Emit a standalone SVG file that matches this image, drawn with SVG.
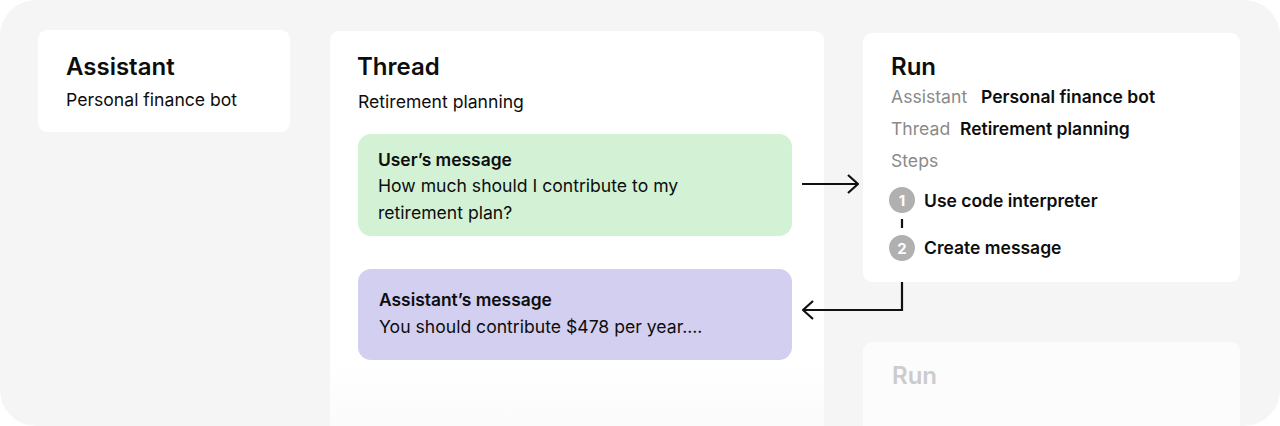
<svg xmlns="http://www.w3.org/2000/svg" width="1280" height="426" viewBox="0 0 1280 426">
<style>
.t{font-family:Inter,"Liberation Sans",sans-serif;fill:#0d0d0d}
.h{font-size:24px;font-weight:600}
.b{font-size:17.6px}
.s{font-size:17.4px;font-weight:600}
.g{fill:#8a8a8a}
.bb{font-size:17.5px;font-weight:600}
.card{fill:#ffffff}
.conn{fill:none;stroke:#111;stroke-width:2.2}
</style>
<defs>
<linearGradient id="fade" x1="0" y1="0" x2="0" y2="1">
<stop offset="0" stop-color="#ffffff"/>
<stop offset="0.8" stop-color="#ffffff"/>
<stop offset="1" stop-color="#fafafa"/>
</linearGradient>
<marker id="ah" viewBox="0 0 12 20" refX="11" refY="10" markerWidth="12" markerHeight="20" markerUnits="userSpaceOnUse" orient="auto">
<path d="M1 1 L11 10 L1 19" fill="none" stroke="#111" stroke-width="2.2"/>
</marker>
</defs>
<rect x="0" y="0" width="1280" height="426" fill="#ffffff"/>
<rect x="0" y="0" width="1280" height="426" rx="36" fill="#f5f5f5"/>
<g id="assistant">
<rect class="card" x="38" y="30" width="252" height="102" rx="9"/>
<text class="t h" x="66" y="75">Assistant</text>
<text class="t b" x="66" y="106">Personal finance bot</text>
</g>
<g id="thread">
<rect x="330" y="31" width="494" height="410" rx="9" fill="url(#fade)"/>
<text class="t h" x="357" y="75">Thread</text>
<text class="t b" x="358" y="108">Retirement planning</text>
</g>
<g id="user-message">
<rect x="358" y="134" width="434" height="102" rx="13" fill="#d3f2d5"/>
<text class="t s" x="378" y="166">User’s message</text>
<text class="t b" x="378" y="192">How much should I contribute to my</text>
<text class="t b" x="378" y="219">retirement plan?</text>
</g>
<g id="assistant-message">
<rect x="358" y="269" width="434" height="91" rx="13" fill="#d3cff0"/>
<text class="t s" x="379" y="306">Assistant’s message</text>
<text class="t b" x="379" y="333">You should contribute $478 per year....</text>
</g>
<g id="run">
<rect class="card" x="863" y="33" width="377" height="249" rx="9"/>
<text class="t h" x="891" y="75">Run</text>
<text class="t b g" x="891" y="103">Assistant</text>
<text class="t bb" x="981" y="103">Personal finance bot</text>
<text class="t b g" x="891" y="135">Thread</text>
<text class="t bb" x="960" y="135">Retirement planning</text>
<text class="t b g" x="891" y="167">Steps</text>
<circle cx="902" cy="200" r="13" fill="#b0b0b0"/>
<text class="t" x="902" y="206" font-size="15" font-weight="700" style="fill:#fff" text-anchor="middle">1</text>
<line x1="902" y1="219" x2="902" y2="228" stroke="#111" stroke-width="2.2"/>
<circle cx="902" cy="248" r="13" fill="#b0b0b0"/>
<text class="t" x="902" y="254" font-size="15" font-weight="700" style="fill:#fff" text-anchor="middle">2</text>
<text class="t bb" x="924" y="207">Use code interpreter</text>
<text class="t bb" x="924" y="254">Create message</text>
</g>
<g id="run-faded">
<rect x="863" y="342" width="377" height="100" rx="9" fill="#fcfcfc"/>
<text class="t h" x="892" y="384" style="fill:#cccccc">Run</text>
</g>
<g id="connectors">
<path class="conn" d="M802 184 L858 184" marker-end="url(#ah)"/>
<path class="conn" d="M902 282 L902 310 L803 310" marker-end="url(#ah)"/>
</g>
</svg>
